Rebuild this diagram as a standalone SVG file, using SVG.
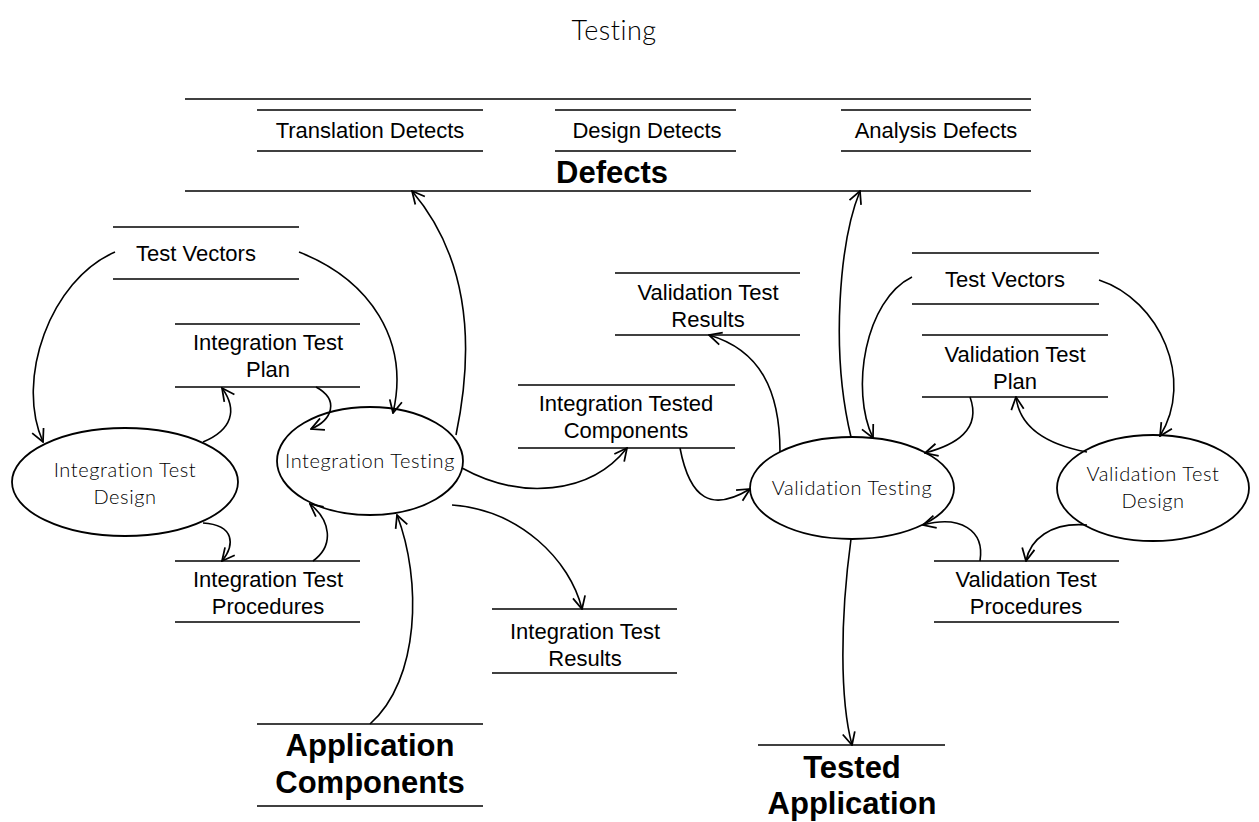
<svg xmlns="http://www.w3.org/2000/svg" width="1259" height="822" viewBox="0 0 1259 822">
<style>
.ln{stroke:#000;stroke-width:1.5;fill:none}
.el{stroke:#000;stroke-width:1.8;fill:#fff}
.st{font-family:"Liberation Sans",Arial,sans-serif;font-size:22px;text-anchor:middle;fill:#000}
.bd{font-family:"Liberation Sans",Arial,sans-serif;font-size:31px;font-weight:bold;text-anchor:middle;fill:#000}
.pr{font-family:Lato,"DejaVu Sans",sans-serif;font-weight:300;font-size:20px;letter-spacing:0.6px;text-anchor:middle;fill:#000}
.tt{font-family:Lato,"DejaVu Sans",sans-serif;font-weight:300;font-size:27px;letter-spacing:0.5px;text-anchor:middle;fill:#000}
.cn{stroke:#000;stroke-width:1.6;fill:none;marker-end:url(#ah)}
</style>
<defs>
<marker id="ah" viewBox="0 0 12 12" refX="11" refY="6" markerWidth="15" markerHeight="15" markerUnits="userSpaceOnUse" orient="auto">
<path d="M1,1 L11,6 L1,11" fill="none" stroke="#000" stroke-width="1.4"/>
</marker>
</defs>
<rect width="1259" height="822" fill="#fff"/>
<text class="tt" x="614" y="40">Testing</text>

<g id="defects">
<line class="ln" x1="185" y1="99" x2="1031" y2="99"/>
<line class="ln" x1="185" y1="191" x2="1031" y2="191"/>
<text class="bd" x="612" y="183">Defects</text>
</g>
<g id="translation-detects">
<line class="ln" x1="257" y1="110" x2="483" y2="110"/>
<line class="ln" x1="257" y1="151" x2="483" y2="151"/>
<text class="st" x="370" y="138">Translation Detects</text>
</g>
<g id="design-detects">
<line class="ln" x1="555" y1="110" x2="736" y2="110"/>
<line class="ln" x1="555" y1="151" x2="736" y2="151"/>
<text class="st" x="647" y="138">Design Detects</text>
</g>
<g id="analysis-defects">
<line class="ln" x1="841" y1="110" x2="1031" y2="110"/>
<line class="ln" x1="841" y1="151" x2="1031" y2="151"/>
<text class="st" x="936" y="138">Analysis Defects</text>
</g>

<g id="test-vectors-left">
<line class="ln" x1="113" y1="227" x2="299" y2="227"/>
<line class="ln" x1="113" y1="279" x2="299" y2="279"/>
<text class="st" x="196" y="261">Test Vectors</text>
</g>
<g id="integration-test-plan">
<line class="ln" x1="175" y1="324" x2="360" y2="324"/>
<line class="ln" x1="175" y1="387" x2="360" y2="387"/>
<text class="st" x="268" y="350">Integration Test</text>
<text class="st" x="268" y="377">Plan</text>
</g>
<g id="integration-test-procedures">
<line class="ln" x1="175" y1="561" x2="360" y2="561"/>
<line class="ln" x1="175" y1="622" x2="360" y2="622"/>
<text class="st" x="268" y="587">Integration Test</text>
<text class="st" x="268" y="614">Procedures</text>
</g>
<g id="integration-test-results">
<line class="ln" x1="492" y1="609" x2="677" y2="609"/>
<line class="ln" x1="492" y1="673" x2="677" y2="673"/>
<text class="st" x="585" y="639">Integration Test</text>
<text class="st" x="585" y="666">Results</text>
</g>
<g id="integration-tested-components">
<line class="ln" x1="518" y1="385" x2="735" y2="385"/>
<line class="ln" x1="518" y1="448" x2="735" y2="448"/>
<text class="st" x="626" y="411">Integration Tested</text>
<text class="st" x="626" y="438">Components</text>
</g>
<g id="validation-test-results">
<line class="ln" x1="615" y1="273" x2="800" y2="273"/>
<line class="ln" x1="615" y1="335" x2="800" y2="335"/>
<text class="st" x="708" y="300">Validation Test</text>
<text class="st" x="708" y="327">Results</text>
</g>
<g id="test-vectors-right">
<line class="ln" x1="912" y1="253" x2="1099" y2="253"/>
<line class="ln" x1="912" y1="304" x2="1099" y2="304"/>
<text class="st" x="1005" y="287">Test Vectors</text>
</g>
<g id="validation-test-plan">
<line class="ln" x1="922" y1="335" x2="1108" y2="335"/>
<line class="ln" x1="922" y1="397" x2="1108" y2="397"/>
<text class="st" x="1015" y="362">Validation Test</text>
<text class="st" x="1015" y="389">Plan</text>
</g>
<g id="validation-test-procedures">
<line class="ln" x1="934" y1="561" x2="1119" y2="561"/>
<line class="ln" x1="934" y1="622" x2="1119" y2="622"/>
<text class="st" x="1026" y="587">Validation Test</text>
<text class="st" x="1026" y="614">Procedures</text>
</g>
<g id="application-components">
<line class="ln" x1="257" y1="724" x2="483" y2="724"/>
<line class="ln" x1="257" y1="806" x2="483" y2="806"/>
<text class="bd" x="370" y="756">Application</text>
<text class="bd" x="370" y="793">Components</text>
</g>
<g id="tested-application">
<line class="ln" x1="758" y1="745" x2="945" y2="745"/>
<text class="bd" x="852" y="778">Tested</text>
<text class="bd" x="852" y="814">Application</text>
</g>

<g id="integration-test-design">
<ellipse class="el" cx="125" cy="482" rx="113" ry="54"/>
<text class="pr" x="125" y="477">Integration Test</text>
<text class="pr" x="125" y="504">Design</text>
</g>
<g id="integration-testing">
<ellipse class="el" cx="370" cy="461" rx="93" ry="54"/>
<text class="pr" x="370" y="468">Integration Testing</text>
</g>
<g id="validation-testing">
<ellipse class="el" cx="852" cy="488" rx="102" ry="51"/>
<text class="pr" x="852" y="495">Validation Testing</text>
</g>
<g id="validation-test-design">
<ellipse class="el" cx="1153" cy="488" rx="96" ry="53"/>
<text class="pr" x="1153" y="481">Validation Test</text>
<text class="pr" x="1153" y="508">Design</text>
</g>

<g id="connectors">
<path class="cn" d="M115,252 C50,280 15,380 43,442"/>
<path class="cn" d="M299,252 C370,280 410,340 393,413"/>
<path class="cn" d="M203,442 C232,430 238,410 222,388"/>
<path class="cn" d="M316,387 C340,400 332,420 311,429"/>
<path class="cn" d="M203,523 C235,525 235,545 222,561"/>
<path class="cn" d="M313,561 C335,545 330,520 310,504"/>
<path class="cn" d="M456,435 C478,330 462,250 412,191"/>
<path class="cn" d="M370,724 C420,680 422,580 397,515"/>
<path class="cn" d="M462,468 C520,500 590,495 627,448"/>
<path class="cn" d="M452,505 C520,510 570,560 582,609"/>
<path class="cn" d="M680,448 C690,500 712,512 750,489"/>
<path class="cn" d="M780,452 C780,390 760,350 709,335"/>
<path class="cn" d="M851,437 C830,350 840,240 860,191"/>
<path class="cn" d="M912,277 C865,300 850,390 873,438"/>
<path class="cn" d="M970,397 C982,430 955,445 925,453"/>
<path class="cn" d="M1087,452 C1050,445 1020,430 1016,397"/>
<path class="cn" d="M1099,280 C1160,300 1195,380 1160,436"/>
<path class="cn" d="M980,561 C985,530 960,515 923,525"/>
<path class="cn" d="M1087,525 C1050,522 1030,540 1026,561"/>
<path class="cn" d="M851,539 C840,620 840,700 852,745"/>
</g>
</svg>
